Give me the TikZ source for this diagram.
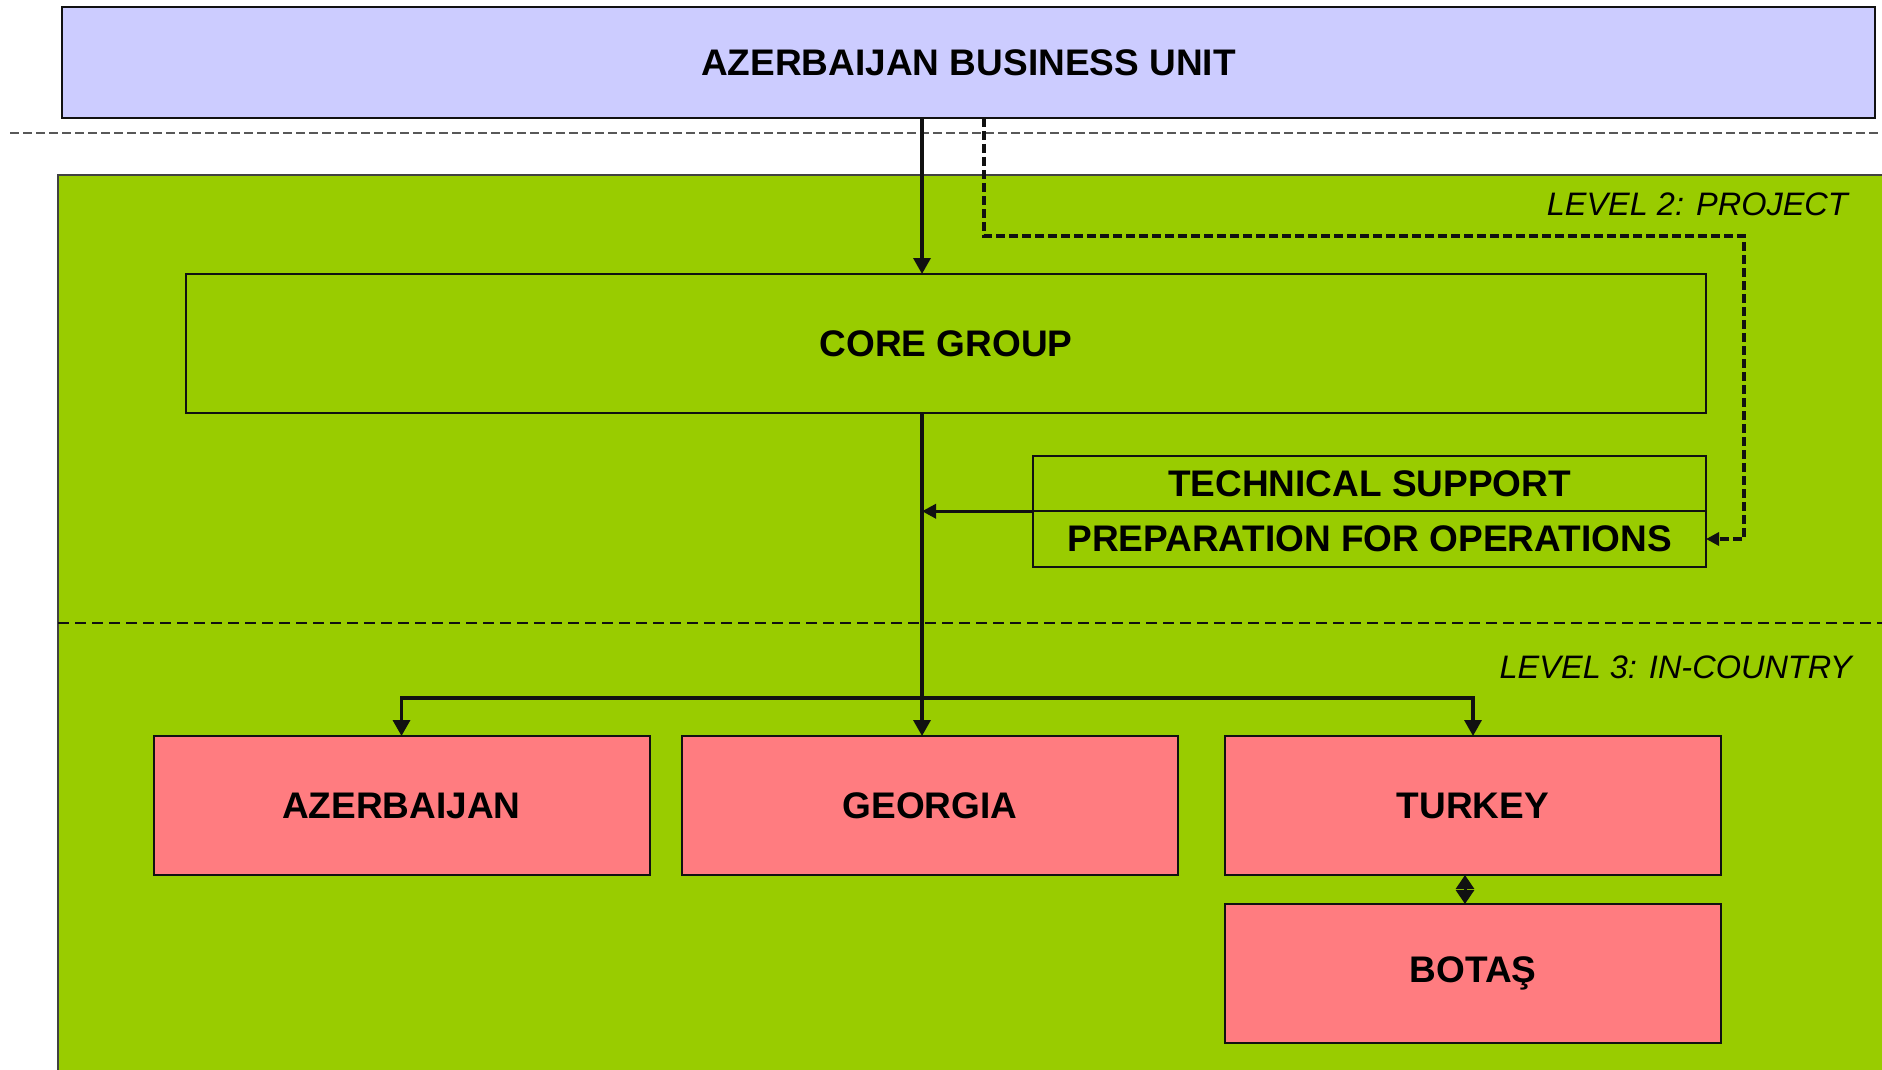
\documentclass[tikz,border=0pt]{standalone}
\usepackage{fontspec}
\setmainfont{Liberation Sans}
\usepackage{xcolor,tikz}
\usetikzlibrary{arrows.meta}
\definecolor{unitfill}{HTML}{CCCCFF}
\definecolor{field}{HTML}{99CC00}
\definecolor{country}{HTML}{FF7C80}
\definecolor{ink}{HTML}{111111}

\begin{document}
\begin{tikzpicture}[x=1pt,y=-1pt,>={Triangle[length=16pt,width=17pt]},
  box/.style={draw=ink,line width=2pt,inner sep=0pt,outer sep=0pt,font=\fontsize{37}{40}\selectfont\bfseries},
  unitbox/.style={box,fill=unitfill,minimum width=1813pt,minimum height=111pt},
  groupbox/.style={box,minimum width=1520pt,minimum height=139pt},
  supportbox/.style={box,minimum width=673pt,minimum height=55.5pt},
  countrybox/.style={box,fill=country,minimum width=496pt,minimum height=139pt},
  levellabel/.style={anchor=east,inner sep=0pt,font=\fontsize{32.5}{36}\selectfont\itshape},
  link/.style={->,line width=3.4pt,color=ink},
  dashlink/.style={->,line width=3.2pt,color=ink,dash pattern=on 9pt off 4pt},
  levelline/.style={line width=2.6pt,color=ink,dash pattern=on 11pt off 6pt}]
\useasboundingbox (0,0) rectangle (1882,1070);
% background bands
\fill[field] (58,175) rectangle (1882,1070);
\draw[line width=1.4pt,ink!80] (58,1070) -- (58,175) -- (1882,175);
\draw[line width=1.8pt,ink!70,dash pattern=on 9pt off 4pt] (10,133) -- (1882,133);
\draw[levelline] (58,623) -- (1882,623);
\node[levellabel] (lvtwo) at (1848,204) {LEVEL 2: PROJECT};
\node[levellabel] (lvthree) at (1852,667) {LEVEL 3: IN-COUNTRY};
% boxes
\node[unitbox] (bu) at (968.5,62.5) {AZERBAIJAN BUSINESS UNIT};
\node[groupbox] (core) at (946,343.5) {CORE GROUP};
\node[supportbox] (tech) at (1369.5,483.5) {TECHNICAL SUPPORT};
\node[supportbox,anchor=north] (prep) at (tech.south) {PREPARATION FOR OPERATIONS};
\node[countrybox] (aze) at (401.5,805.5) {AZERBAIJAN};
\node[countrybox] (geo) at (930,805.5) {GEORGIA};
\node[countrybox] (tur) at (1473,805.5) {TURKEY};
\node[countrybox] (bot) at (1473,973.5) {BOTA\c{S}};
% connectors
\coordinate (trunk) at (922,698);
\coordinate (dtop) at (984,236);
\coordinate (dright) at (1744,236);
\draw[link] (bu.south -| trunk) -- (core.north -| trunk);
\draw[link] (core.south -| trunk) -- (geo.north -| trunk);
\draw[link,>={Triangle[length=14pt,width=14pt]}] (tech.south west) -- (tech.south west -| trunk);
\draw[link] (trunk) -| (aze.north);
\draw[link] (trunk) -| (tur.north);
\draw[dashlink,>={Triangle[length=13pt,width=13pt]}] (bu.south -| dtop) -- (dtop) -- (dright) |- (prep.east);
\draw[<->,line width=3pt,ink,>={Triangle[length=14pt,width=18pt]}] ([xshift=-8pt]tur.south) -- ([xshift=-8pt]bot.north);
\end{tikzpicture}
\end{document}
